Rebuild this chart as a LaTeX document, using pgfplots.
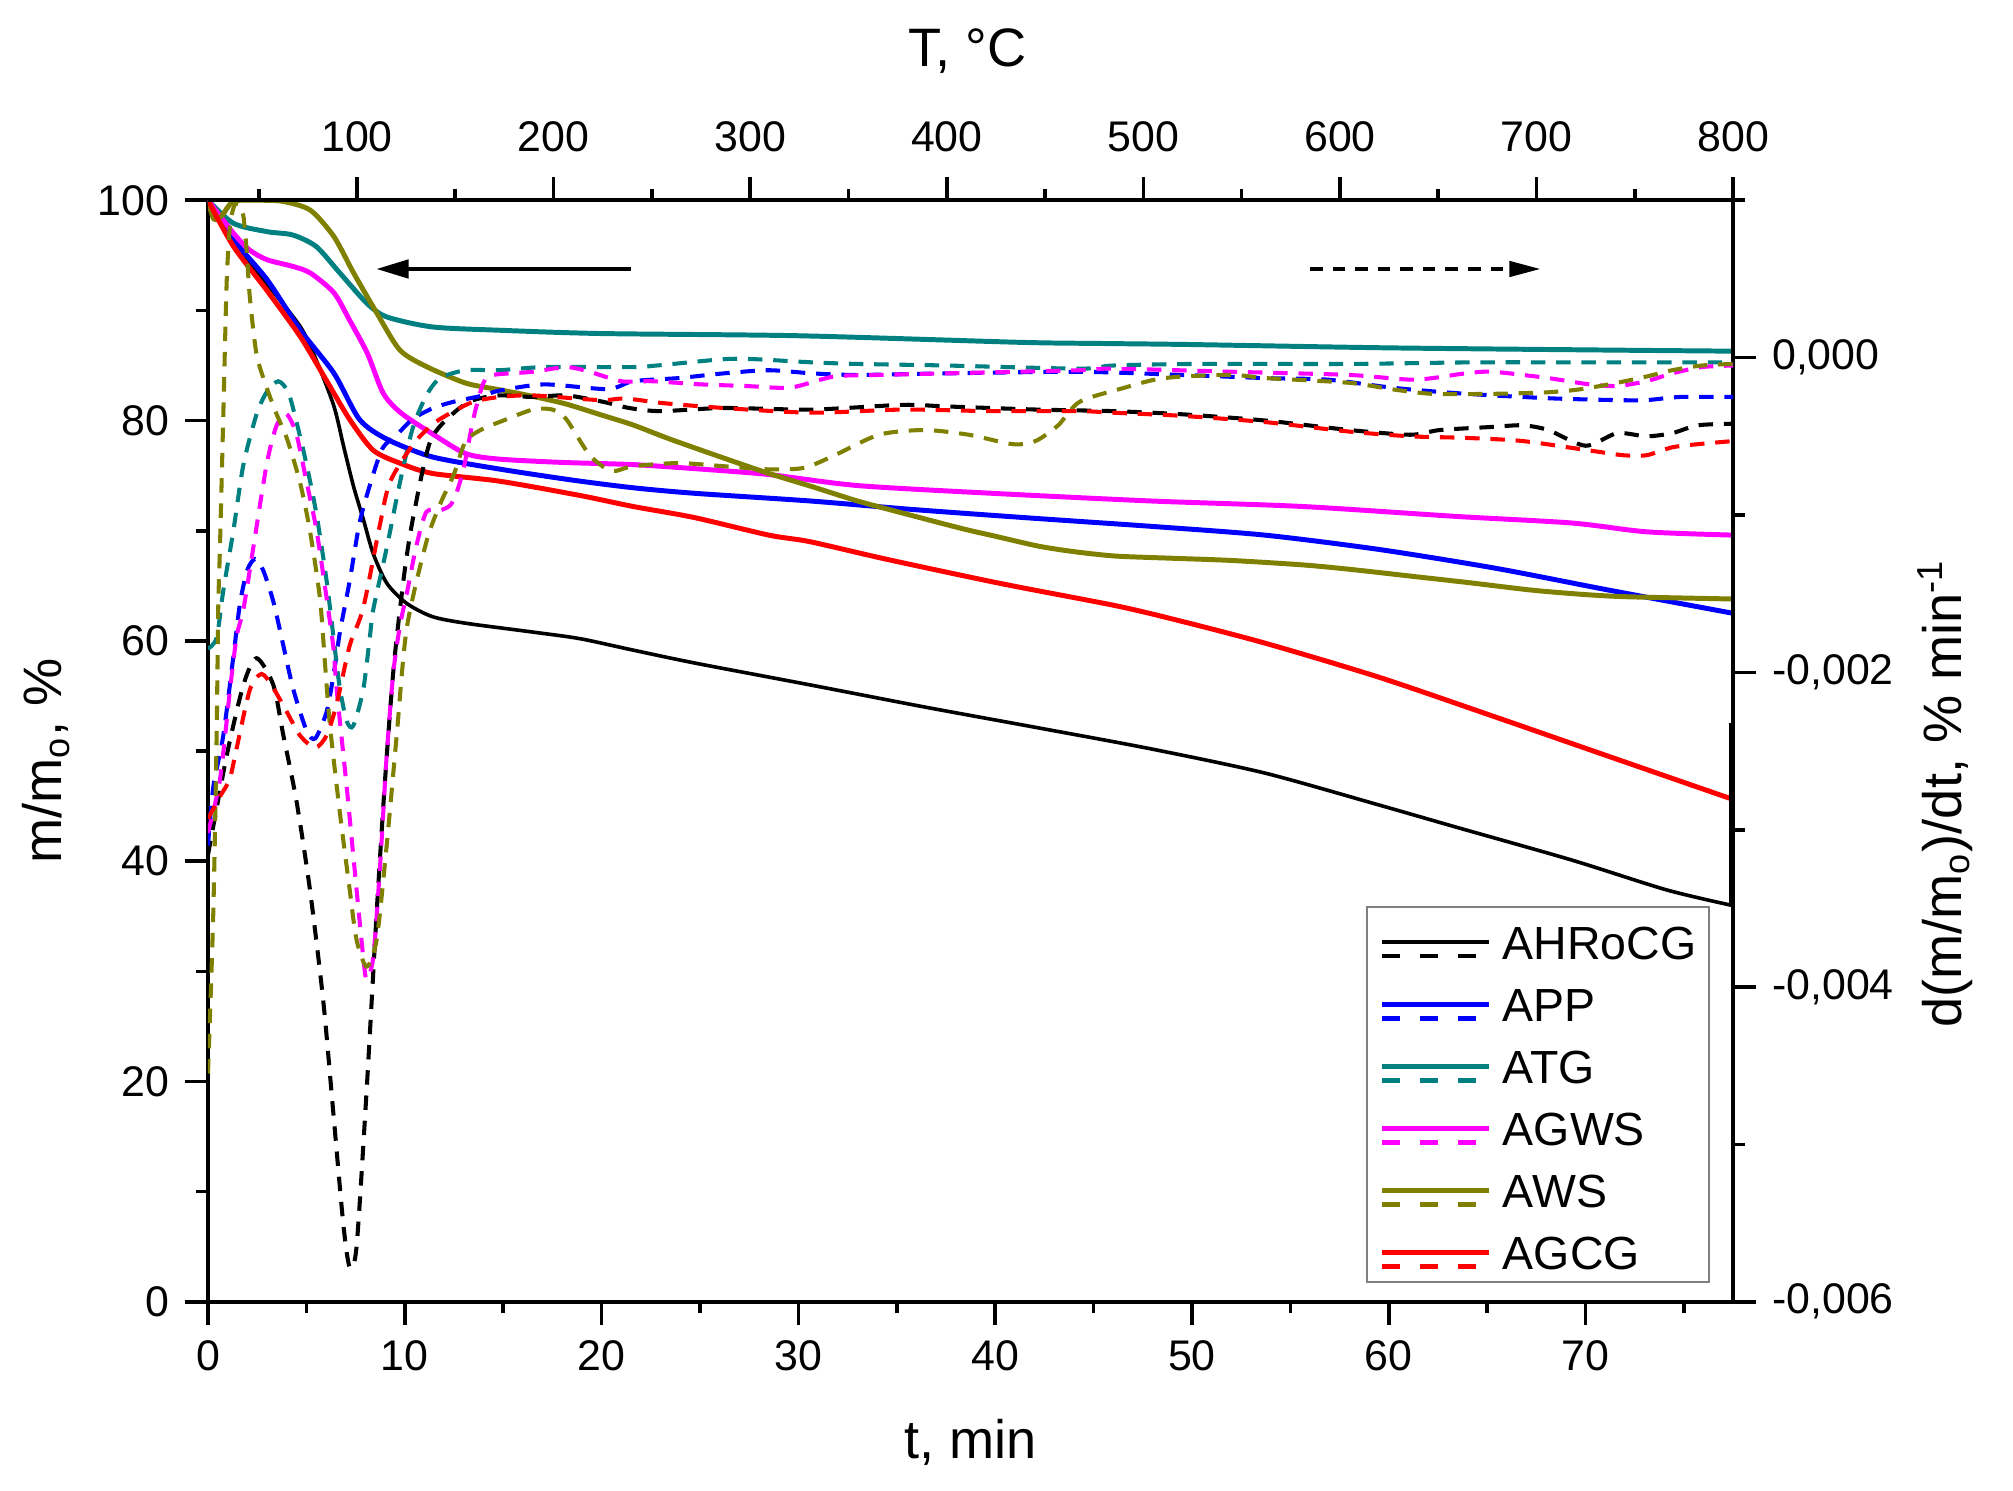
\documentclass[border=0pt]{standalone}
\usepackage{fontspec}
\setmainfont{Liberation Sans}
\usepackage{pgfplots}
\pgfplotsset{compat=1.18}
\usetikzlibrary{arrows.meta}

\definecolor{cBlue}{RGB}{0,0,255}
\definecolor{cTeal}{RGB}{0,128,128}
\definecolor{cMag}{RGB}{255,0,255}
\definecolor{cOlive}{RGB}{128,128,0}
\definecolor{cRed}{RGB}{255,0,0}

\pgfplotsset{
  common/.style={
    at={(0,0)}, anchor=south west, scale only axis,
    width=11.88cm, height=8.58cm,
    tick align=outside,
    major tick length=0.18cm, minor tick length=0.09cm,
    every tick/.style={black, line width=0.8pt},
    axis line style={line width=0.8pt},
    tick label style={font=\fontsize{9.5}{11}\selectfont},
    label style={font=\fontsize{12}{14}\selectfont},
    /pgf/number format/assume math mode=true,
  },
  dsh/.style={line width=0.9pt, dash pattern=on 3.2pt off 2.4pt, smooth, tension=0.45},
  sld/.style={line width=1.1pt, smooth, tension=0.45},
}

\begin{document}
\begin{tikzpicture}
\path[use as bounding box] (-1.62cm,-1.47cm) rectangle (14.06cm,10.14cm);

% ---------------- main axis: m/m0 vs t -----------------
\begin{axis}[common,
  xmin=0, xmax=77.5, ymin=0, ymax=100,
  xtick={0,10,...,70}, minor xtick={5,15,...,75},
  ytick={0,20,...,100}, minor ytick={10,30,...,90},
  xtick pos=bottom, ytick pos=left,
  xlabel={t, min}, ylabel={m/m\textsubscript{o}, \%},
  xlabel style={at={(axis description cs:0.5,-0.128)}, anchor=center},
  ylabel style={at={(axis description cs:-0.106,0.491)}, anchor=center},
  legend style={draw=gray, line width=0.4pt, fill=white,
    font=\fontsize{10.3}{12}\selectfont,
    at={(rel axis cs:0.985,0.359)}, anchor=north east,
    inner xsep=0.1cm, inner ysep=0.01cm, row sep=0pt, column sep=0.09cm,
    nodes={inner sep=0pt, text height=0.40cm, text depth=0.083cm}},
  legend cell align=left,
  legend image code/.code={
    \draw[#1, solid] (0cm,-0.02cm) -- (0.83cm,-0.02cm);
    \draw[#1, dash pattern=on 0.14cm off 0.155cm] (0cm,-0.13cm) -- (0.83cm,-0.13cm);
  },
]
% AHRoCG
\addplot[black, sld, line width=0.8pt] coordinates {
(0,100) (1.3,96.1) (3.0,92.4) (4.7,88.5) (5.5,85.5) (6.4,81.3) (6.9,77.6) (7.4,74.0)
(7.9,71.0) (8.4,67.9) (9.1,65.2) (10.1,63.4) (11.4,62.2) (13.1,61.6) (16.5,60.8)
(18.9,60.2) (21.5,59.2) (24.7,58.0) (30.6,56.0) (36.4,54.0) (42.2,52.1) (47.9,50.2)
(53.7,48.0) (59.5,45.1) (63.4,43.1) (69.3,40.1) (74.1,37.4) (77.4,36.0)};
\addlegendentry{AHRoCG}
% APP
\addplot[cBlue, sld] coordinates {
(0,100) (1.3,96.4) (3.0,92.8) (4.7,88.2) (6.4,84.3) (7.7,80.1) (9.1,78.3) (11.4,76.7)
(14.8,75.6) (18.5,74.6) (21.6,73.9) (24.7,73.4) (30.6,72.7) (36,71.9) (42.2,71.1)
(47.9,70.4) (53.7,69.6) (59.5,68.3) (65.4,66.6) (71.2,64.6) (77.5,62.5)};
\addlegendentry{APP}
% ATG
\addplot[cTeal, sld] coordinates {
(0,100) (1.3,97.9) (3.0,97.15) (4.3,96.85) (5.5,95.8) (6.7,93.4) (8.1,90.6) (9.1,89.4)
(11.4,88.5) (14.8,88.2) (20,87.9) (30,87.7) (41.3,87.1) (45.3,87.0) (50,86.9) (60,86.6)
(71.1,86.4) (77.5,86.3)};
\addlegendentry{ATG}
% AGWS
\addplot[cMag, sld] coordinates {
(0,100) (1.3,97.0) (2.1,95.5) (3.0,94.6) (4.3,94.0) (5.2,93.4) (6.4,91.6) (7.2,89.1)
(8.1,86.1) (8.9,82.5) (9.8,80.7) (11.4,78.8) (13.1,77.0) (14.8,76.5) (18,76.2) (21.6,76.0)
(25,75.6) (28.5,75.1) (33.0,74.1) (39.8,73.4) (47.9,72.7) (55.6,72.2) (63.4,71.3)
(69.3,70.7) (73.1,69.9) (77.5,69.6)};
\addlegendentry{AGWS}
% AWS
\addplot[cOlive, sld] coordinates {
(0,100) (0.3,98.3) (0.7,98.6) (1.3,99.9) (2.5,100) (3.8,99.9) (5.2,99.1) (6.4,96.7)
(7.4,93.4) (8.6,89.7) (9.75,86.4) (11.1,84.9) (13.1,83.4) (14.8,82.8) (16.5,82.2)
(18.2,81.5) (20,80.5) (21.6,79.6) (23.5,78.3) (26.2,76.6) (28.5,75.2) (30.7,74.0)
(33,72.7) (35.3,71.6) (38.3,70.2) (40,69.5) (42.2,68.6) (44,68.1) (46.1,67.7) (49,67.5)
(52,67.3) (55.6,66.9) (58,66.5) (61.5,65.8) (64,65.3) (67.3,64.6) (70,64.2) (72.2,64.0)
(77.5,63.8)};
\addlegendentry{AWS}
% AGCG
\addplot[cRed, sld] coordinates {
(0,100) (1.3,95.8) (3.0,91.8) (4.7,87.6) (6.0,83.7) (7.2,80.1) (8.4,77.3) (9.8,76.1)
(11.4,75.2) (14.8,74.5) (18.9,73.2) (21.6,72.2) (24.7,71.2) (28.5,69.6) (30.6,69.0)
(34.5,67.4) (40.3,65.2) (46.1,63.2) (49.2,61.9) (53.7,59.8) (59.5,56.7) (65.4,53.1)
(71.2,49.5) (77.5,45.6)};
\addlegendentry{AGCG}
% end artefact of AHRoCG at the right edge
\addplot[black, line width=1.2pt, forget plot] coordinates {(77.45,36.0) (77.45,52.5)};

% arrows
\draw[line width=0.7pt, -{Triangle[length=0.25cm, width=0.145cm]}]
  (axis cs:21.5,93.76) -- (axis cs:8.57,93.76);
\draw[line width=0.7pt, dash pattern=on 2.8pt off 2.2pt, -{Triangle[length=0.24cm, width=0.12cm]}]
  (axis cs:56,93.76) -- (axis cs:67.7,93.76);
\end{axis}

% ---------------- derivative axis (right) -----------------
\begin{axis}[common,
  xmin=0, xmax=77.5, ymin=-6, ymax=1,
  hide x axis, axis y line*=right,
  ytick={-6,-4,-2,0}, yticklabels={{-0,006},{-0,004},{-0,002},{0,000}},
  minor ytick={-5,-3,-1,1},
  ylabel={d(m/m\textsubscript{o})/dt, \% min\textsuperscript{-1}},
  ylabel style={at={(axis description cs:1.139,0.4615)}, anchor=center, rotate=0},
]
% AHRoCG
\addplot[black, dsh] coordinates {
(0,-3.16) (0.95,-2.53) (1.8,-2.08) (2.47,-1.91) (3.32,-2.08) (3.83,-2.40) (4.5,-2.82)
(5.18,-3.38) (5.86,-4.09) (6.37,-4.80) (6.88,-5.51) (7.2,-5.78) (7.55,-5.65) (8.06,-4.66)
(8.57,-3.53) (9.0,-2.68) (9.45,-1.95) (10.0,-1.35) (10.45,-1.0) (11.3,-0.53) (12.5,-0.35)
(13.5,-0.27) (14.8,-0.24) (16.5,-0.25) (18.2,-0.24) (20.05,-0.28) (21.4,-0.32) (23.0,-0.34)
(26.2,-0.32) (30.7,-0.33) (35.3,-0.30) (37.5,-0.31) (42.1,-0.33) (46.0,-0.34) (49.5,-0.36)
(53.75,-0.40) (58.0,-0.46) (61.1,-0.49) (62.6,-0.46) (65.3,-0.44) (66.8,-0.43) (68.1,-0.46)
(70.0,-0.56) (71.6,-0.48) (73.1,-0.50) (74.4,-0.48) (75.7,-0.43) (77.5,-0.42)};
% APP
\addplot[cBlue, dsh] coordinates {
(0,-3.1) (0.27,-2.73) (0.78,-2.4) (1.29,-1.9) (1.63,-1.56) (2.0,-1.35) (2.39,-1.28)
(2.8,-1.35) (3.32,-1.55) (3.83,-1.83) (4.34,-2.11) (5.01,-2.37) (5.45,-2.42) (6.03,-2.25)
(6.4,-2.0) (6.71,-1.74) (7.2,-1.42) (7.72,-1.04) (8.4,-0.74) (8.9,-0.57) (9.6,-0.49)
(10.4,-0.39) (11.45,-0.32) (12.5,-0.28) (14.0,-0.24) (14.8,-0.21) (17.1,-0.17) (20.3,-0.20)
(21.6,-0.15) (23.9,-0.13) (26.2,-0.10) (28.5,-0.08) (30.7,-0.10) (33.0,-0.11) (37.5,-0.10)
(44.3,-0.09) (49.5,-0.11) (53.75,-0.13) (56.9,-0.14) (60.1,-0.19) (62.8,-0.22) (65.3,-0.24)
(68.5,-0.26) (71.6,-0.27) (73.1,-0.27) (74.8,-0.25) (77.5,-0.25)};
% ATG
\addplot[cTeal, dsh] coordinates {
(0,-1.85) (0.44,-1.78) (0.78,-1.48) (1.29,-1.10) (1.8,-0.68) (2.47,-0.36) (2.98,-0.22)
(3.57,-0.15) (4.08,-0.22) (4.5,-0.41) (5.01,-0.68) (5.52,-1.0) (6.03,-1.42) (6.4,-1.8)
(6.7,-2.1) (7.05,-2.31) (7.38,-2.34) (7.89,-2.11) (8.23,-1.77) (8.4,-1.6) (9.08,-1.21)
(9.76,-0.79) (10.4,-0.45) (11.1,-0.24) (11.8,-0.13) (13.1,-0.08) (14.8,-0.08) (17.1,-0.06)
(21.6,-0.06) (22.8,-0.05) (26.2,-0.01) (27.8,-0.01) (30.7,-0.03) (33.0,-0.04) (37.5,-0.05)
(44.3,-0.07) (46,-0.05) (50.2,-0.04) (58,-0.04) (64.3,-0.03) (70.6,-0.03) (77.5,-0.03)};
% AGWS
\addplot[cMag, dsh] coordinates {
(0,-3.02) (0.61,-2.68) (1.12,-2.11) (1.46,-1.77) (1.8,-1.6) (2.3,-1.21) (2.98,-0.68)
(3.49,-0.43) (4.0,-0.36) (4.5,-0.49) (5.01,-0.79) (5.52,-1.10) (6.03,-1.53) (6.37,-1.84)
(6.54,-2.11) (7.05,-2.73) (7.55,-3.38) (7.89,-3.81) (8.06,-3.95) (8.4,-3.81) (8.74,-3.24)
(9.08,-2.53) (9.42,-2.0) (9.76,-1.7) (10.1,-1.5) (10.6,-1.19) (11.1,-0.98) (11.8,-0.97)
(12.3,-0.94) (12.6,-0.87) (13.0,-0.70) (13.5,-0.38) (14.0,-0.16) (14.5,-0.11) (16.5,-0.09)
(18.2,-0.06) (19.4,-0.09) (21.0,-0.15) (22.6,-0.15) (25.05,-0.17) (27.3,-0.18) (29.6,-0.19)
(31.8,-0.12) (34.1,-0.11) (37.5,-0.10) (44.3,-0.08) (46,-0.07) (52.1,-0.09) (58,-0.11)
(61.3,-0.14) (63.9,-0.10) (65.3,-0.09) (68.1,-0.13) (70.2,-0.17) (71.6,-0.18) (73.1,-0.15)
(74.4,-0.10) (75.9,-0.06) (77.5,-0.05)};
% AWS
\addplot[cOlive, dsh] coordinates {
(0,-4.55) (0.27,-3.53) (0.44,-2.40) (0.52,-1.60) (0.61,-1.2) (0.78,-0.36) (0.95,0.48)
(1.12,0.84) (1.35,0.97) (1.6,0.97) (1.8,0.90) (1.96,0.69) (2.13,0.38) (2.47,0.02)
(2.98,-0.19) (3.49,-0.36) (4.0,-0.51) (4.67,-0.79) (5.18,-1.10) (5.69,-1.53) (5.95,-1.95)
(6.2,-2.34) (6.71,-2.90) (7.2,-3.38) (7.55,-3.70) (8.06,-3.87) (8.57,-3.70) (9.08,-3.10)
(9.59,-2.40) (10.1,-1.72) (11.1,-1.17) (11.8,-0.93) (12.5,-0.74) (13.1,-0.53) (14.0,-0.45)
(14.8,-0.41) (16.5,-0.33) (17.5,-0.33) (18.2,-0.39) (19.4,-0.62) (20.5,-0.72) (21.6,-0.69)
(23.9,-0.67) (26.2,-0.69) (28.5,-0.71) (30.3,-0.70) (31.85,-0.62) (34.1,-0.49) (36.4,-0.46)
(38.65,-0.49) (40.9,-0.55) (42.05,-0.53) (43.2,-0.43) (44.3,-0.28) (46.6,-0.19) (48.1,-0.14)
(49.5,-0.12) (52.1,-0.11) (53.75,-0.13) (58.0,-0.16) (60.1,-0.20) (62.2,-0.23) (65.3,-0.23)
(68.1,-0.22) (69.8,-0.20) (71.6,-0.16) (73.1,-0.12) (74.4,-0.08) (75.9,-0.05) (77.5,-0.04)};
% AGCG
\addplot[cRed, dsh] coordinates {
(0,-2.93) (0.6,-2.79) (1.1,-2.68) (1.46,-2.48) (2.13,-2.11) (2.73,-2.01) (3.32,-2.10)
(4.0,-2.25) (4.67,-2.40) (5.44,-2.48) (6.03,-2.40) (6.54,-2.20) (7.2,-1.83) (7.89,-1.59)
(8.74,-1.06) (9.25,-0.79) (10.43,-0.55) (11.45,-0.42) (12.5,-0.34) (13.5,-0.28) (14.8,-0.25)
(16.5,-0.24) (19.9,-0.27) (21.2,-0.26) (23.2,-0.29) (26.2,-0.32) (30.7,-0.35) (35.3,-0.33)
(39.8,-0.34) (44.3,-0.34) (46.0,-0.35) (49.5,-0.37) (53.75,-0.41) (58.0,-0.47) (61.1,-0.50)
(63.9,-0.51) (66.8,-0.53) (70.2,-0.59) (71.9,-0.62) (73.1,-0.62) (74.4,-0.57) (75.7,-0.55)
(77.5,-0.53)};
\end{axis}

% ---------------- top axis: temperature -----------------
\begin{axis}[common,
  xmin=24.2, xmax=800, ymin=0, ymax=1,
  hide y axis, axis x line*=top,
  xtick={100,200,...,800}, minor xtick={50,150,...,750},
  xticklabel style={yshift=0.07cm},
  xlabel={T, °C},
  xlabel style={at={(axis description cs:0.498,1.135)}, anchor=center},
]
\end{axis}
\end{tikzpicture}
\end{document}
